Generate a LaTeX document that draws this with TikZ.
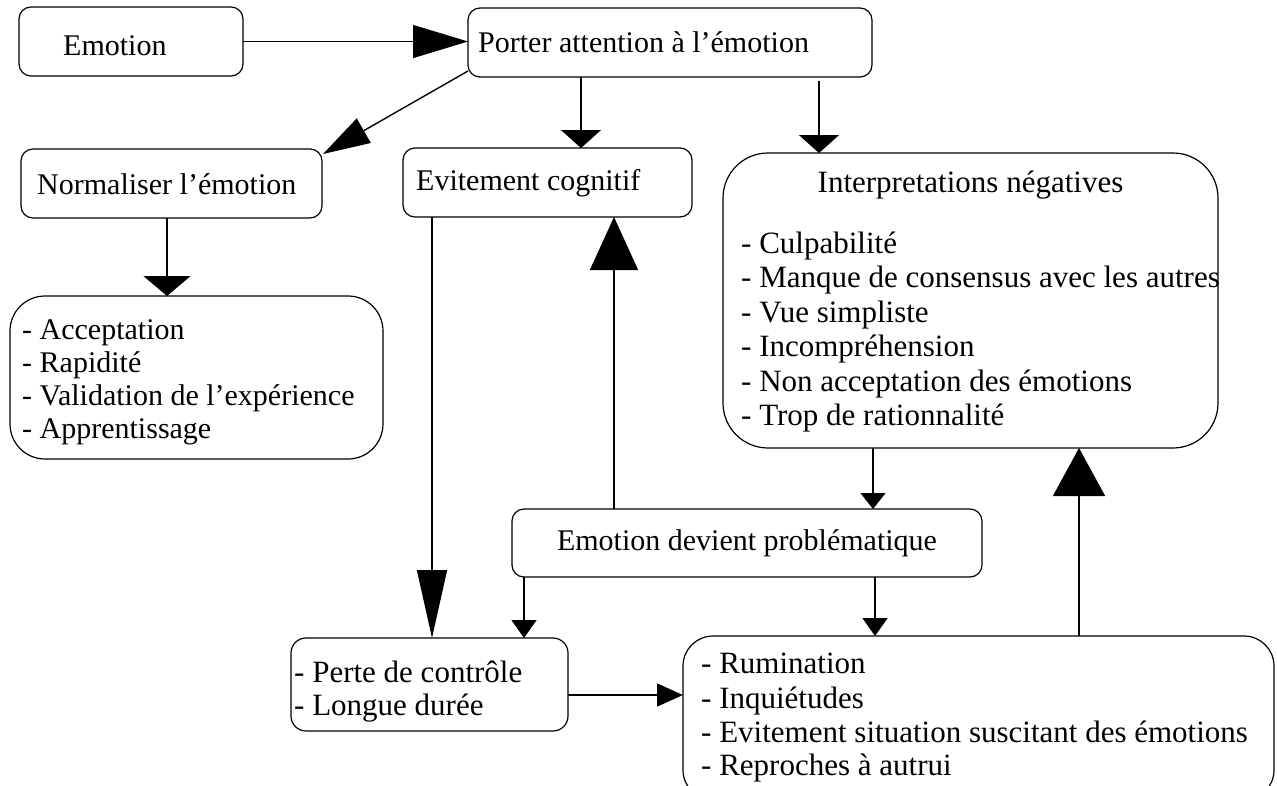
\documentclass[tikz,border=0pt]{standalone}
\usepackage{fontspec}
\setmainfont{Liberation Serif}
\usetikzlibrary{arrows.meta}
\begin{document}
\begin{tikzpicture}[x=1pt,y=-1pt,
  box/.style={draw, line width=1.2pt, inner sep=0pt, outer sep=0pt, rounded corners=#1},
  box/.default=12pt,
  txt/.style={inner sep=0pt, anchor=base west, font=\fontsize{30}{36}\selectfont},
  txtb/.style={inner sep=0pt, anchor=base west, font=\fontsize{31}{36}\selectfont},
  con/.style={line width=1.4pt},
]
\useasboundingbox (0,0) rectangle (1277,785);

% boxes
\node[box, minimum width=224pt, minimum height=69pt] (emo) at (131,41.5) {};
\node[box, minimum width=404pt, minimum height=69pt] (porter) at (670,42.5) {};
\node[box, minimum width=301pt, minimum height=69pt] (norm) at (171.5,183.5) {};
\node[box, minimum width=289pt, minimum height=69pt] (evit) at (547.5,182.5) {};
\node[box=45pt, minimum width=495pt, minimum height=295pt] (interp) at (970.5,300.5) {};
\node[box=35pt, minimum width=373pt, minimum height=163pt] (accept) at (196.5,377.5) {};
\node[box, minimum width=470pt, minimum height=68pt] (devient) at (747,543) {};
\node[box=15pt, minimum width=277pt, minimum height=93pt] (perte) at (429.5,684.5) {};
\node[box=30pt, minimum width=591pt, minimum height=164pt] (rumin) at (978.5,718) {};

% texts
\node[txt] (temo) at (63,55) {Emotion};
\node[txt] (tporter) at (478,52) {Porter attention à l’émotion};
\node[txt] (tnorm) at (37,194) {Normaliser l’émotion};
\node[txt] (tevit) at (416,190) {Evitement cognitif};
\node[txtb, anchor=base] (tinterp) at (970.5,192) {Interpretations négatives};
\node[txtb] (i1) at (741,253) {- Culpabilité};
\node[txtb] (i2) at (741,287.5) {- Manque de consensus avec les autres};
\node[txtb] (i3) at (741,322) {- Vue simpliste};
\node[txtb] (i4) at (741,356.5) {- Incompréhension};
\node[txtb] (i5) at (741,391) {- Non acceptation des émotions};
\node[txtb] (i6) at (741,425.5) {- Trop de rationnalité};
\node[txt] (a1) at (22,339) {- Acceptation};
\node[txt] (a2) at (22,372) {- Rapidité};
\node[txt] (a3) at (22,405.5) {- Validation de l’expérience};
\node[txt] (a4) at (22,438.5) {- Apprentissage};
\node[txt, anchor=base] (tdevient) at (747,550) {Emotion devient problématique};
\node[txtb] (p1) at (294,682) {- Perte de contrôle};
\node[txtb] (p2) at (294,715) {- Longue durée};
\node[txtb] (r1) at (701,673) {- Rumination};
\node[txtb] (r2) at (701,708) {- Inquiétudes};
\node[txtb] (r3) at (701,742) {- Evitement situation suscitant des émotions};
\node[txtb] (r4) at (701,775) {- Reproches à autrui};

% connectors
\draw[con, -{Triangle[length=55pt,width=33pt]}] (emo.east) -- (emo.east -| porter.west);
\draw[con, -{Triangle[length=47pt,width=28pt]}] ([shift={(0,-6)}]porter.south west) -- ([shift={(1,5)}]norm.north east);
\draw[con, -{Triangle[length=18pt,width=40pt]}] ([shift={(-89,0)}]porter.south) -- ([shift={(33.5,0)}]evit.north);
\draw[con, -{Triangle[length=18pt,width=40pt]}] ([shift={(149,4)}]porter.south) -- ([shift={(-151.5,0)}]interp.north);
\draw[con, -{Triangle[length=20pt,width=47pt]}] ([shift={(-4.5,0)}]norm.south) -- ([shift={(-29.5,0)}]accept.north);
\draw[con, -{Triangle[length=68pt,width=30pt]}] ([shift={(-115.5,0)}]evit.south) -- ([shift={(2.5,0)}]perte.north);
\draw[con, -{Triangle[length=53pt,width=48pt]}] ([shift={(-133,0)}]devient.north) -- ([shift={(66.5,0)}]evit.south);
\draw[con, -{Triangle[length=16pt,width=25pt]}] ([shift={(-97.5,0)}]interp.south) -- ([shift={(126,0)}]devient.north);
\draw[con, -{Triangle[length=18pt,width=25pt]}] ([shift={(-223,0)}]devient.south) -- ([shift={(94.5,0)}]perte.north);
\draw[con, -{Triangle[length=18pt,width=25pt]}] ([shift={(128,0)}]devient.south) -- ([shift={(-103.5,0)}]rumin.north);
\draw[con, -{Triangle[length=26pt,width=23pt]}] ([shift={(0,10.5)}]perte.east) -- ([shift={(0,-23)}]rumin.west);
\draw[con, -{Triangle[length=48pt,width=52pt]}] ([shift={(100.5,0)}]rumin.north) -- ([shift={(108.5,0)}]interp.south);
\end{tikzpicture}
\end{document}
